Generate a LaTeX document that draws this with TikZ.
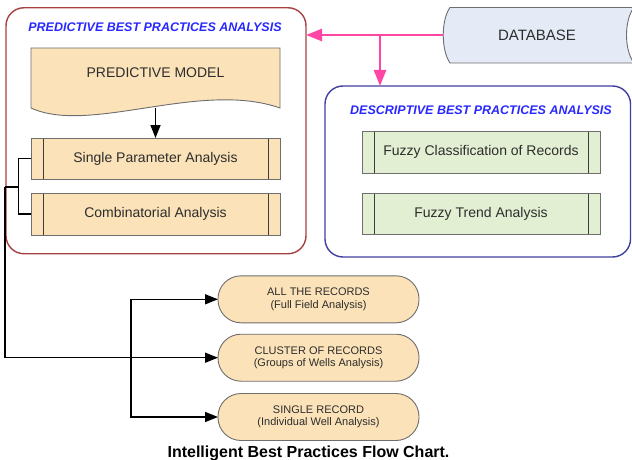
\documentclass[tikz,border=0pt]{standalone}
\usepackage{fontspec}
\setmainfont{Liberation Sans}
\usetikzlibrary{arrows.meta}
\definecolor{wheatfill}{RGB}{251,226,184}
\definecolor{greenfill}{RGB}{227,239,210}
\definecolor{dbfill}{RGB}{228,235,246}
\definecolor{redborder}{RGB}{168,66,66}
\definecolor{blueborder}{RGB}{64,64,160}
\definecolor{titleblue}{RGB}{40,40,255}
\definecolor{hotpink}{RGB}{255,70,165}
\definecolor{outlinegray}{RGB}{110,110,110}
\definecolor{innergray}{RGB}{60,60,60}
\definecolor{textgray}{RGB}{45,45,45}
\begin{document}
\begin{tikzpicture}[x=1pt,y=-1pt,
  every node/.style={inner sep=0pt, outer sep=0pt},
  txt/.style={text=textgray, font=\fontsize{14}{16}\selectfont},
  grouptitle/.style={text=titleblue, font=\fontsize{12.5}{14}\selectfont\bfseries\itshape},
  groupbox/.style={line width=1.4pt, rounded corners=18pt, fill=white},
  procbox/.style={draw=outlinegray, line width=0.9pt, minimum height=41pt, txt,
    path picture={
      \draw[innergray, line width=0.9pt] ([xshift=12pt]path picture bounding box.north west) -- ([xshift=12pt]path picture bounding box.south west);
      \draw[innergray, line width=0.9pt] ([xshift=-12pt]path picture bounding box.north east) -- ([xshift=-12pt]path picture bounding box.south east);
    }},
  termbox/.style={draw=outlinegray, line width=0.9pt, fill=wheatfill, rounded corners=23pt,
    minimum width=201pt, minimum height=47pt, align=center, text=textgray,
    font=\fontsize{11}{12.5}\selectfont},
  conn/.style={draw=black, line width=1.5pt},
  blackarr/.style={conn, -{Triangle[length=13pt,width=10pt]}},
  pinkarr/.style={draw=hotpink, line width=2.5pt, -{Triangle[length=16pt,width=12pt]}}
]
\useasboundingbox (0,0) rectangle (632,460);
\fill[white] (0,0) rectangle (632,460);

% group boxes
\node[groupbox, draw=redborder, minimum width=300pt, minimum height=246pt] (pred) at (156,130.75) {};
\node[groupbox, draw=blueborder, minimum width=305.5pt, minimum height=171pt] (desc) at (477.75,171.5) {};
\node[grouptitle] (predt) at (155,27.3) {PREDICTIVE BEST PRACTICES ANALYSIS};
\node[grouptitle] (desct) at (481,110) {DESCRIPTIVE BEST PRACTICES ANALYSIS};

% predictive model (document shape)
\draw[draw=outlinegray, fill=wheatfill, line width=0.9pt]
  (31,48) -- (280,48) -- (280,108) .. controls (200,80) and (90,135) .. (31,108) -- cycle;
\node[txt] (pm) at (155.5,73) {PREDICTIVE MODEL};
\coordinate (pmb) at (155.5,107.6);

% process boxes
\node[procbox, fill=wheatfill, minimum width=249pt] (spa) at (155.5,158.5) {Single Parameter Analysis};
\node[procbox, fill=wheatfill, minimum width=249pt, minimum height=42pt] (comb) at (155.5,214) {Combinatorial Analysis};
\node[procbox, fill=greenfill, minimum width=238pt, minimum height=42pt] (fcr) at (481,152) {Fuzzy Classification of Records};
\node[procbox, fill=greenfill, minimum width=238pt] (fta) at (481,213.5) {Fuzzy Trend Analysis};

% database (stored data shape)
\draw[draw=outlinegray, fill=dbfill, line width=0.9pt]
  (450,7.5) -- (634,7.5) .. controls (624,20) and (624,50) .. (634,63) -- (450,63)
  .. controls (441,50) and (441,20) .. (450,7.5) -- cycle;
\node[txt, font=\fontsize{15}{17}\selectfont, minimum width=188pt, minimum height=55pt] (db) at (537,35) {DATABASE};

% terminals
\node[termbox] (all) at (318.5,299.3) {ALL THE RECORDS\\(Full Field Analysis)};
\node[termbox] (cluster) at (318.5,357.7) {CLUSTER OF RECORDS\\(Groups of Wells Analysis)};
\node[termbox] (singlerec) at (318.5,417) {SINGLE RECORD\\(Individual Well Analysis)};

% connectors
\draw[blackarr] (pmb) -- (spa.north);
\coordinate (j1) at (18.3,187);
\coordinate (j2) at (5,187);
\coordinate (bus) at (131,357.7);
\draw[conn] (spa.west) -| (j1) |- (comb.west);
\draw[conn] (j1) -- (j2);
\draw[blackarr] (j2) |- (cluster.west);
\draw[blackarr] (bus) |- (all.west);
\draw[blackarr] (bus) |- (singlerec.west);

\draw[pinkarr] (db.west) -- (db.west -| pred.east);
\coordinate (pb) at (380,35);
\draw[pinkarr] (pb) -- (pb |- desc.north);

% caption
\node[font=\fontsize{16}{18}\selectfont\bfseries, anchor=base] (cap) at (308.5,457) {Intelligent Best Practices Flow Chart.};
\end{tikzpicture}
\end{document}
